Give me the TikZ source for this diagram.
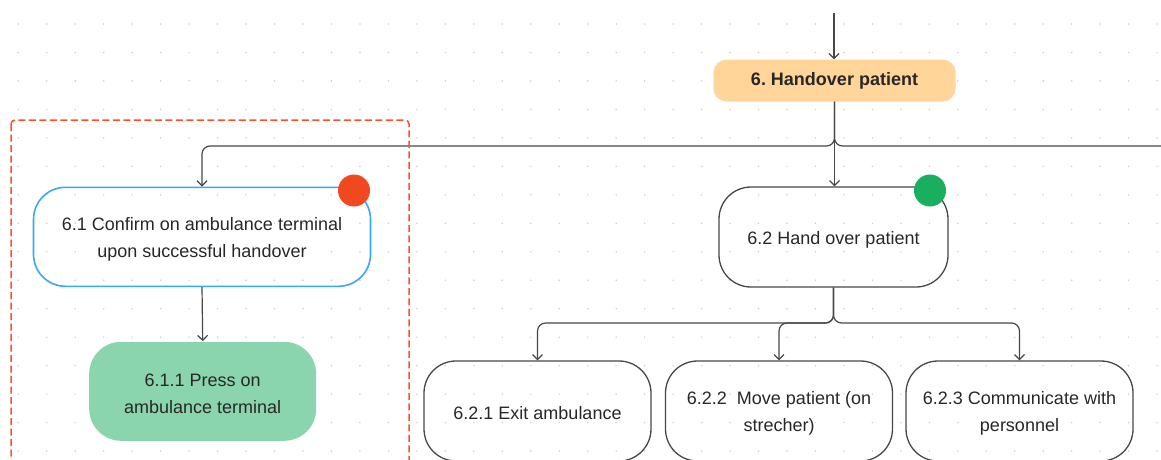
\documentclass[tikz,border=0pt]{standalone}
\usepackage{fontspec}
\setmainfont{Liberation Sans}
\usetikzlibrary{arrows.meta}

\definecolor{ink}{HTML}{272727}
\definecolor{wire}{HTML}{474747}
\definecolor{dotgrey}{HTML}{CDCDCD}
\definecolor{handfill}{HTML}{FFD393}
\definecolor{pressfill}{HTML}{84D3A9}
\definecolor{selblue}{HTML}{3AA6F5}
\definecolor{alertred}{HTML}{F0481F}
\definecolor{okgreen}{HTML}{19AF5E}
\definecolor{framered}{HTML}{FF4E2C}

\begin{document}
\begin{tikzpicture}[x=1pt,y=-1pt,
  txt/.style={font=\fontsize{18}{27.5}\selectfont, text=ink, align=center, inner sep=0pt},
  stepbox/.style={draw=wire, line width=1.3pt, rounded corners=32pt,
    inner sep=0pt, minimum height=100pt,
    label={[txt, yshift=-2.5pt]center:#1}},
  link/.style={draw=wire, line width=1.2pt, rounded corners=8pt},
  arr/.style={link, -{Straight Barb[length=5pt,width=10pt]}},
  badge/.style={circle, minimum size=32pt, inner sep=0pt}
]
\useasboundingbox (0,0) rectangle (1161,459);
\clip (0,0) rectangle (1161,459);

% dot grid of the canvas
\foreach \i in {0,...,40}{
  \foreach \j in {0,...,15}{
    \fill[dotgrey] (18.3+28.47*\i, 24+28.47*\j) circle (0.85pt);
  }
}

% steps
\node[txt, font=\fontsize{18}{22}\selectfont\bfseries, fill=handfill, fill opacity=0.95,
  text opacity=1, rounded corners=13pt, minimum width=242pt, minimum height=42pt]
  (hand) at (834.5,80.5) {6.\ Handover patient};

\node[stepbox={6.1 Confirm on ambulance terminal\\upon successful handover},
  draw=selblue, line width=1.6pt, minimum width=337pt, minimum height=99pt]
  (confirm) at (202,236.8) {};

\node[stepbox={6.1.1 Press on\\ambulance terminal}, draw=none, fill=pressfill,
  fill opacity=0.95, minimum width=227pt, minimum height=99pt]
  (press) at (202.7,391.3) {};

\node[stepbox={6.2 Hand over patient}, minimum width=229pt] (handover) at (833.5,237) {};

\node[stepbox={6.2.1 Exit ambulance}, minimum width=227pt] (exit) at (537.5,411) {};
\node[stepbox={6.2.2\ \ Move patient (on\\strecher)}, minimum width=227pt] (move) at (779,411) {};
\node[stepbox={6.2.3 Communicate with\\personnel}, minimum width=227pt] (talk) at (1019.5,411) {};

% status badges
\node[badge, fill=alertred] (redbadge) at (354,190.5) {};
\node[badge, fill=okgreen] (greenbadge) at (930,190.5) {};

% connectors
\coordinate (incoming) at (834,13);
\coordinate (offright) at (1175,146);
\draw[arr] (incoming) -- (incoming |- hand.north);
\draw[arr] (hand.south) -- (hand.south |- handover.north);
\draw[arr] (hand.south) -- (hand.south |- 0,146) -- (confirm.north |- 0,146) -- (confirm.north);
\draw[link] (hand.south) -- (hand.south |- 0,146) -- (offright);
\draw[arr] (confirm.south) -- (press.north);

\draw[arr] (handover.south) -- (handover.south |- 0,323) -- (exit.north |- 0,323) -- (exit.north);
\draw[arr] (handover.south) -- (handover.south |- 0,323) -- (move.north |- 0,323) -- (move.north);
\draw[arr] (handover.south) -- (handover.south |- 0,323) -- (talk.north |- 0,323) -- (talk.north);

% dashed group frame, on top of the connectors it crosses
\draw[framered, line width=1.5pt, dash pattern=on 7pt off 3.5pt, rounded corners=4pt]
  (11,120) rectangle (409,490);
\end{tikzpicture}
\end{document}
